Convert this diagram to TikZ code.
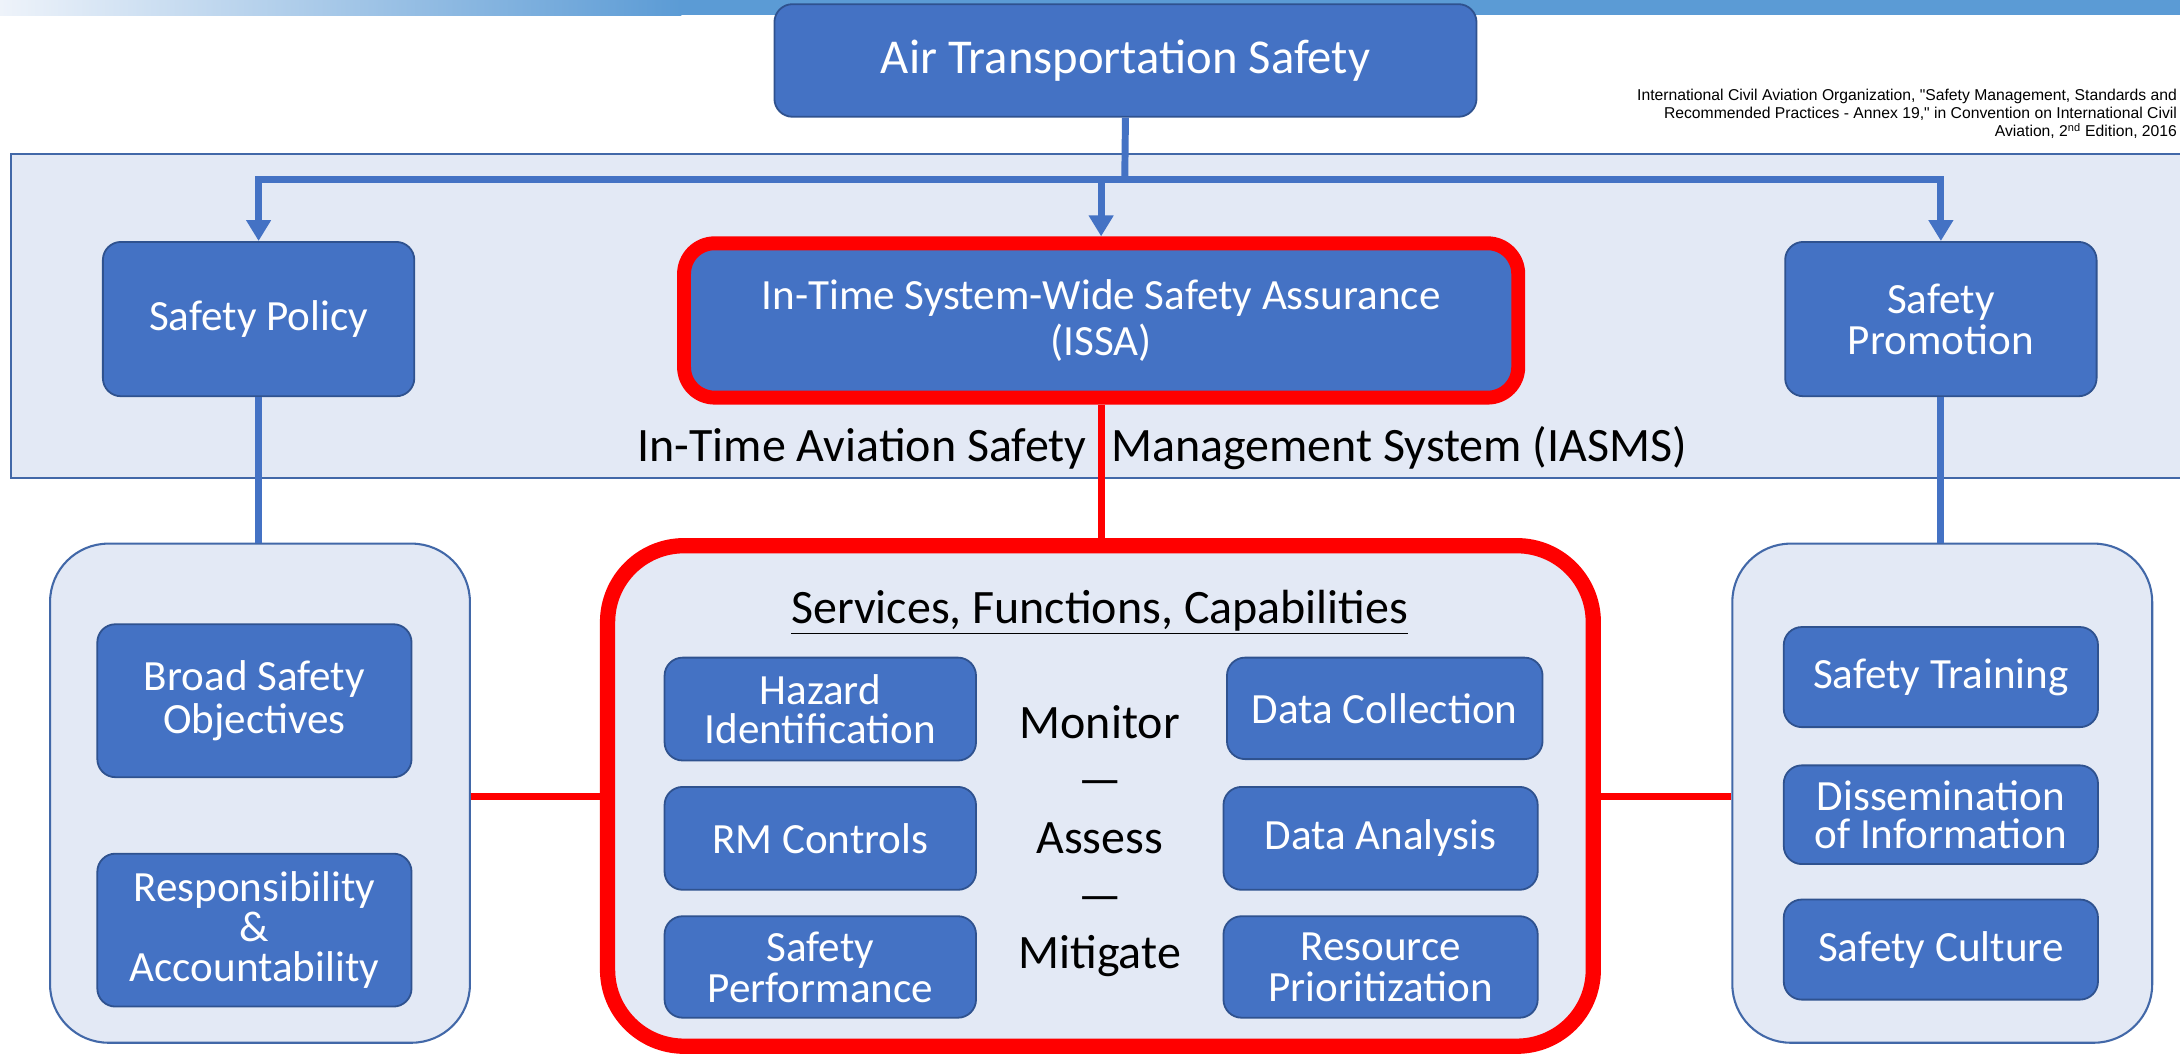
\documentclass[tikz,border=0pt]{standalone}
\usepackage{fontspec}
\setmainfont{Carlito}
\newfontfamily\citefont{Liberation Sans}
\usetikzlibrary{arrows.meta}

\definecolor{boxblue}{HTML}{4472C4}
\definecolor{boxedge}{HTML}{2F528F}
\definecolor{panelfill}{HTML}{E3E9F5}
\definecolor{paneledge}{HTML}{4268A8}
\definecolor{barblue}{HTML}{5B9BD5}
\definecolor{barlight}{HTML}{EEF3FA}

\tikzset{
  bluebox/.style={draw=boxedge, fill=boxblue, line width=1.3pt, rounded corners=13pt,
    text=white, align=center, inner sep=0pt, font=\fontsize{31}{30}\selectfont},
  panel/.style={draw=paneledge, fill=panelfill, line width=1.5pt, rounded corners=42pt, inner sep=0pt},
  bluelink/.style={draw=boxblue, line width=5pt},
  redlink/.style={draw=red, line width=5pt},
  plaintext/.style={inner sep=0pt, align=center, font=\fontsize{34.5}{41.5}\selectfont},
  downtip/.style={-{Triangle[width=17pt,length=15pt]}},
}

\begin{document}
\begin{tikzpicture}[x=1pt,y=-1pt]
    \useasboundingbox (0,0) rectangle (1568,759);
    % title bar
    \shade[left color=barlight, right color=barblue] (0,0) rectangle (490,11);
    \fill[barblue] (490,0) rectangle (1568,11);
    % IASMS band
    \draw[draw=paneledge, fill=panelfill, line width=1.5pt] (1580,111) -- (8,111) -- (8,344) -- (1580,344);
    % top level
    \node[bluebox, minimum width=505pt, minimum height=81pt, font=\fontsize{35}{35}\selectfont] (ats) at (809.5,43.5) {Air Transportation Safety};
    \node[anchor=east, align=right, inner sep=0pt, font=\citefont\fontsize{11.3}{13}\selectfont] (cite) at (1566,82)
      {International Civil Aviation Organization, "Safety Management, Standards and\\
       Recommended Practices - Annex 19," in Convention on International Civil\\
       Aviation, 2\textsuperscript{nd} Edition, 2016};
    \node[bluebox, minimum width=224pt, minimum height=111pt] (policy) at (186,229.5) {Safety Policy};
    \node[bluebox, draw=red, line width=10pt, rounded corners=22pt, minimum width=600pt, minimum height=111pt,
      font=\fontsize{31}{33}\selectfont] (issa) at (792,230.5)
      {In-Time System-Wide Safety Assurance\\(ISSA)};
    \node[bluebox, minimum width=224pt, minimum height=111pt, font=\fontsize{31}{29.5}\selectfont] (promo) at (1396,229.5) {Safety\\Promotion};
    \node[plaintext] (iasms) at (836,322) {In-Time Aviation Safety\hspace{10pt} Management System (IASMS)};
    % lower panels
    \node[panel, minimum width=302pt, minimum height=359pt] (leftpanel) at (187,570.5) {};
    \node[panel, draw=red, line width=11pt, rounded corners=55pt, minimum width=709pt, minimum height=360pt] (ctrpanel) at (791.5,572.5) {};
    \node[panel, minimum width=302pt, minimum height=359pt] (rightpanel) at (1397,570.5) {};
    % safety policy column
    \node[bluebox, minimum width=226pt, minimum height=110pt, font=\fontsize{31}{31}\selectfont] (broad) at (183,504) {Broad Safety\\Objectives};
    \node[bluebox, minimum width=226pt, minimum height=110pt, font=\fontsize{31}{29}\selectfont] (resp) at (183,669) {Responsibility\\\&\\Accountability};
    % ISSA column
    \node[plaintext] (sfc) at (791,440) {\underline{Services, Functions, Capabilities}};
    \node[bluebox, minimum width=224pt, minimum height=74pt, font=\fontsize{31}{28}\selectfont] (hazard) at (590,510) {Hazard\\Identification};
    \node[bluebox, minimum width=224pt, minimum height=74pt] (rmctrl) at (590,603) {RM Controls};
    \node[bluebox, minimum width=224pt, minimum height=73pt, font=\fontsize{31}{29.5}\selectfont] (safeperf) at (590,695.5) {Safety\\Performance};
    \node[bluebox, minimum width=227pt, minimum height=73pt] (datacol) at (996,509.5) {Data Collection};
    \node[bluebox, minimum width=226pt, minimum height=74pt] (dataana) at (993,603) {Data Analysis};
    \node[bluebox, minimum width=226pt, minimum height=73pt, font=\fontsize{31}{29.5}\selectfont] (resprio) at (993,695.5) {Resource\\Prioritization};
    \node[plaintext] (cycle) at (791,605) {Monitor\\—\\Assess\\—\\Mitigate};
    % safety promotion column
    \node[bluebox, minimum width=226pt, minimum height=72pt] (training) at (1396,487) {Safety Training};
    \node[bluebox, minimum width=226pt, minimum height=71pt, font=\fontsize{31}{28}\selectfont] (dissem) at (1396,586) {Dissemination\\of Information};
    \node[bluebox, minimum width=226pt, minimum height=72pt] (culture) at (1396,683) {Safety Culture};
    % connectors
    \coordinate (bus) at (809,129);
    \draw[bluelink] (ats.south) -- (bus);
    \draw[bluelink, downtip] (bus) -| (policy.north);
    \draw[bluelink, downtip] (bus) -| (promo.north);
    \draw[bluelink, downtip] (issa.north |- bus) -- (issa.north);
    \draw[bluelink] (policy.south) -- (leftpanel.north -| policy.south);
    \draw[bluelink] (promo.south) -- (rightpanel.north -| promo.south);
    \draw[redlink] (issa.south) -- (ctrpanel.north -| issa.south);
    \draw[redlink] (leftpanel.east |- 0,573) -- (ctrpanel.west |- 0,573);
    \draw[redlink] (ctrpanel.east |- 0,573) -- (rightpanel.west |- 0,573);
\end{tikzpicture}
\end{document}
